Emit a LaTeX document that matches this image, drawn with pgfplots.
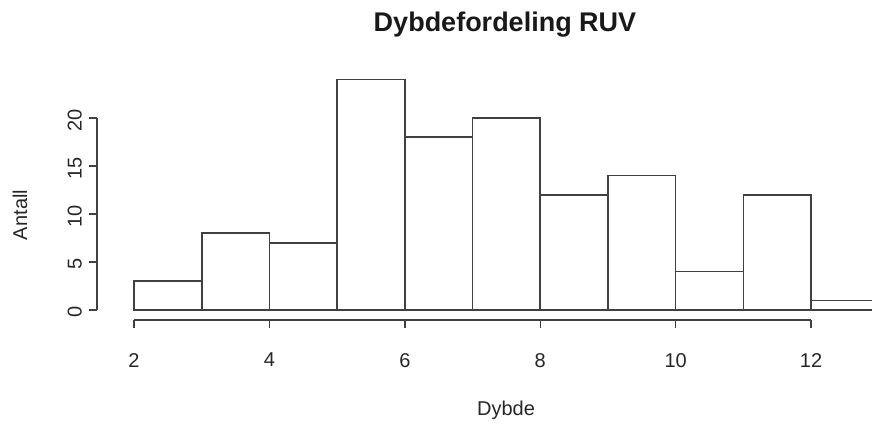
\documentclass[border=0pt]{standalone}
\usepackage{pgfplots}
\pgfplotsset{compat=1.18}
\usepackage{fontspec}
\setmainfont{Liberation Sans}
\begin{document}
\begin{tikzpicture}
\begin{axis}[
  scale only axis,
  width=387.5pt, height=121.15pt,
  xmin=1.453, xmax=12.9,
  ymin=-1.04, ymax=24.2,
  clip mode=individual,
  axis x line*=bottom, axis y line*=left,
  axis line style={draw=none,-},
  tick align=outside,
  major tick length=4pt,
  tick style={black!75, line width=0.7pt},
  xtick={2,4,6,8,10,12},
  ytick={0,5,10,15,20},
  /pgf/number format/assume math mode=true,
  tick label style={font=\fontsize{10}{12}\selectfont, text=black!85},
  xticklabel style={yshift=-9pt},
  yticklabel style={rotate=90, anchor=south, xshift=-1pt},
]
\addplot[ybar interval, fill=white, draw=black!75, line width=0.8pt] coordinates {
(2,3) (3,8) (4,7) (5,24) (6,18) (7,20) (8,12) (9,14) (10,4) (11,12) (12,1) (13,1)
};
\draw[black!75, line width=0.8pt] (axis cs:2,-1.04) -- (axis cs:12,-1.04);
\draw[black!75, line width=0.8pt] (axis cs:1.453,0) -- (axis cs:1.453,20);
\end{axis}
\node[font=\bfseries\fontsize{13.5}{15}\selectfont, text=black!90] at ([shift={(204pt,26.8pt)}]current axis.north west) {Dybdefordeling RUV};
\node[font=\fontsize{10}{12}\selectfont, text=black!85] at ([shift={(204.5pt,-45pt)}]current axis.south west) {Dybde};
\node[font=\fontsize{10}{12}\selectfont, text=black!85, rotate=90] at ([shift={(-38.5pt,52.5pt)}]current axis.south west) {Antall};
\pgfresetboundingbox
\useasboundingbox ([shift={(-48.5pt,-52pt)}]current axis.south west) rectangle ([shift={(0pt,38.85pt)}]current axis.north east);
\end{tikzpicture}
\end{document}
